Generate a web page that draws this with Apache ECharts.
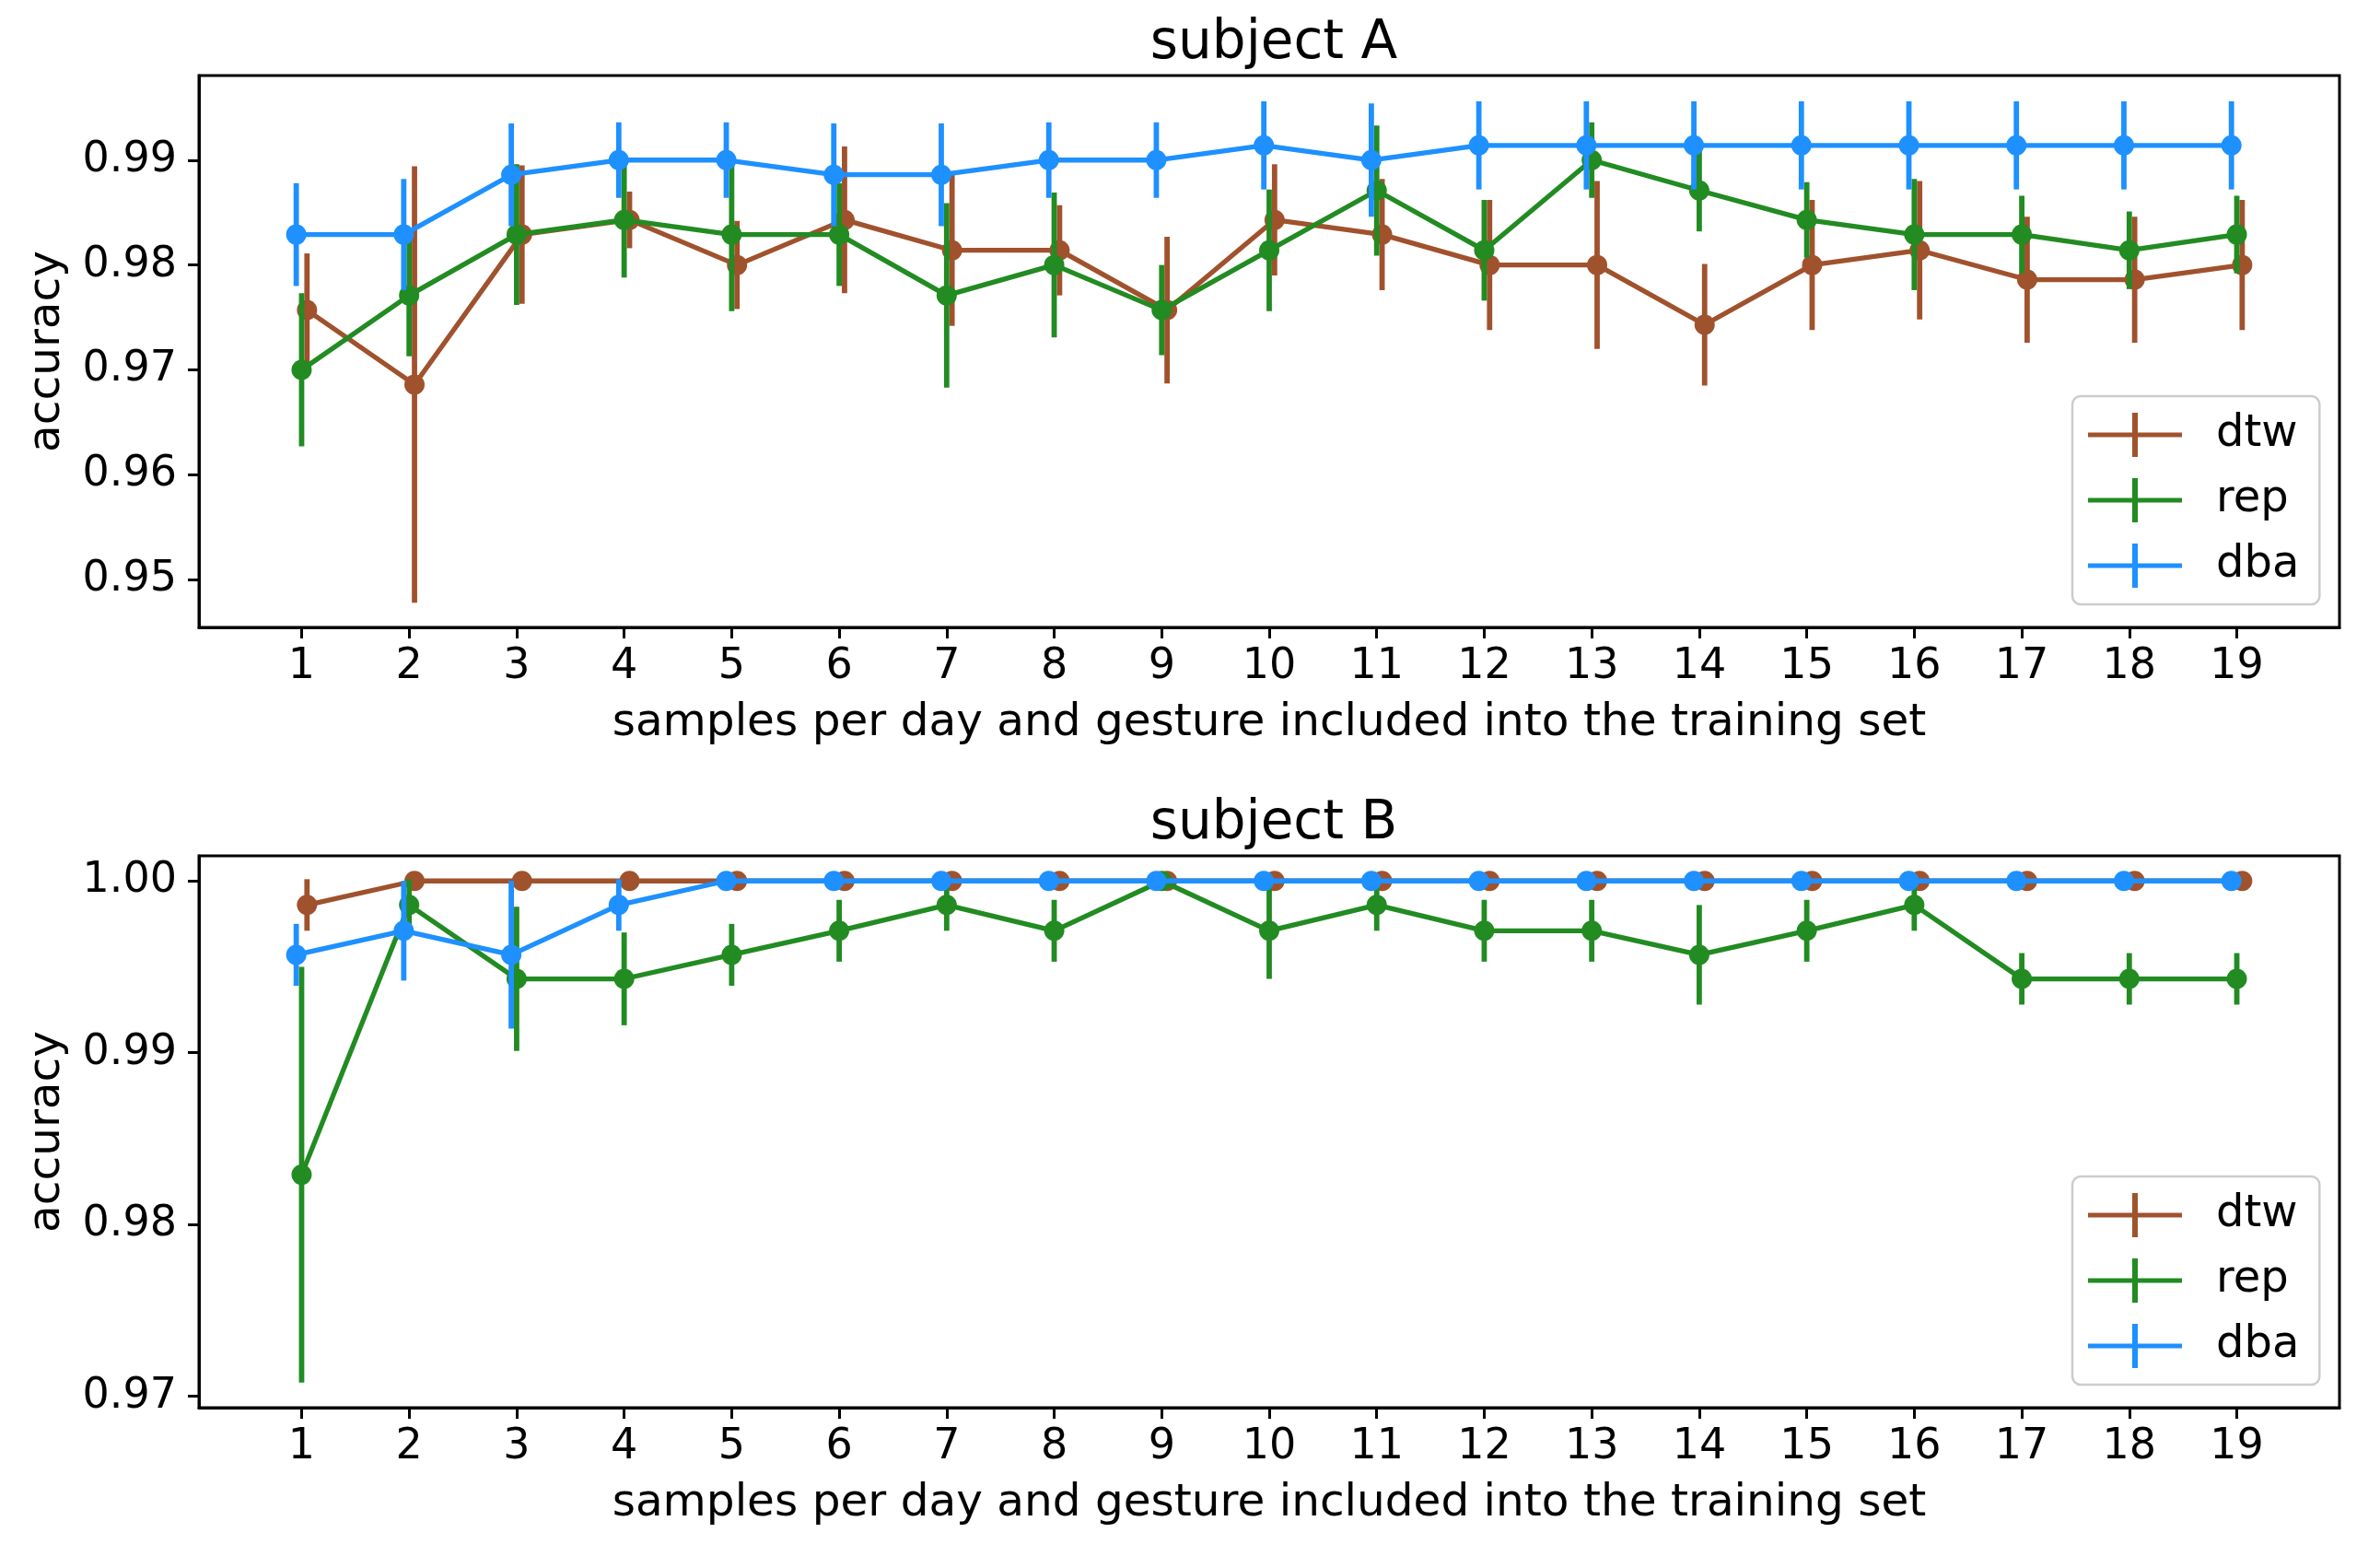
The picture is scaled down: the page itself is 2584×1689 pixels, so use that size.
<!DOCTYPE html>
<html><head><meta charset="utf-8">
<script src="https://cdn.jsdelivr.net/npm/echarts@6/dist/echarts.min.js"></script>
<style>html,body{margin:0;padding:0;background:#fff}#c{width:2584px;height:1689px}</style>
</head><body><div id="c"></div>
<script>
// ---- data ----
const xs = [1,2,3,4,5,6,7,8,9,10,11,12,13,14,15,16,17,18,19];
const seriesNames = ['dtw','rep','dba'];
const panelTitles = ['subject A','subject B'];
const yTicksA = [0.95,0.96,0.97,0.98,0.99];
const yTicksB = [0.97,0.98,0.99,1.00];

const dtwA    = [0.9757,0.9686,0.9829,0.9843,0.9800,0.9843,0.9814,0.9814,0.9757,0.9843,0.9829,0.9800,0.9800,0.9743,0.9800,0.9814,0.9786,0.9786,0.9800];
const dtwAErr = [0.0054,0.0208,0.0066,0.0027,0.0042,0.0070,0.0072,0.0043,0.0070,0.0053,0.0053,0.0062,0.0080,0.0058,0.0062,0.0066,0.0060,0.0060,0.0062];
const repA    = [0.9700,0.9771,0.9829,0.9843,0.9829,0.9829,0.9771,0.9800,0.9757,0.9814,0.9871,0.9814,0.9900,0.9871,0.9843,0.9829,0.9829,0.9814,0.9829];
const repAErr = [0.0073,0.0058,0.0067,0.0055,0.0073,0.0049,0.0088,0.0069,0.0043,0.0058,0.0062,0.0048,0.0036,0.0039,0.0036,0.0053,0.0037,0.0037,0.0037];
const dbaA    = [0.9829,0.9829,0.9886,0.9900,0.9900,0.9886,0.9886,0.9900,0.9900,0.9914,0.9900,0.9914,0.9914,0.9914,0.9914,0.9914,0.9914,0.9914,0.9914];
const dbaAErr = [0.0049,0.0053,0.0049,0.0036,0.0036,0.0049,0.0049,0.0036,0.0036,0.0042,0.0054,0.0042,0.0042,0.0042,0.0042,0.0042,0.0042,0.0042,0.0042];

const dtwB    = [0.9986,1,1,1,1,1,1,1,1,1,1,1,1,1,1,1,1,1,1];
const dtwBErr = [0.0015,0,0,0,0,0,0,0,0,0,0,0,0,0,0,0,0,0,0];
const repB    = [0.9829,0.9986,0.9943,0.9943,0.9957,0.9971,0.9986,0.9971,1.0000,0.9971,0.9986,0.9971,0.9971,0.9957,0.9971,0.9986,0.9943,0.9943,0.9943];
const repBErr = [0.0121,0.0015,0.0042,0.0027,0.0018,0.0018,0.0015,0.0018,0,0.0028,0.0015,0.0018,0.0018,0.0029,0.0018,0.0015,0.0015,0.0015,0.0015];
const dbaB    = [0.9957,0.9971,0.9957,0.9986,1,1,1,1,1,1,1,1,1,1,1,1,1,1,1];
const dbaBErr = [0.0018,0.0029,0.0043,0.0015,0,0,0,0,0,0,0,0,0,0,0,0,0,0,0];

// ---- styling ----
const FONT = 'DejaVu Sans';
const colors = {dtw:'#a0522d', rep:'#228b22', dba:'#1e90ff'};
const offsets = {dtw:0.05, rep:0, dba:-0.05};
const panels = [
  {vals:{dtw:dtwA,rep:repA,dba:dbaA}, errs:{dtw:dtwAErr,rep:repAErr,dba:dbaAErr}, ymin:0.94545, ymax:0.99806, ticks:yTicksA},
  {vals:{dtw:dtwB,rep:repB,dba:dbaB}, errs:{dtw:dtwBErr,rep:repBErr,dba:dbaBErr}, ymin:0.96934, ymax:1.00146, ticks:yTicksB}
];
const gridTops = [82, 929];
const GH = 599, GL = 216, GR = 44;
const legendIcon = 'path://M0,21.5H102V26.5H0Z M48,0H54V48H48Z';

const grids = [], xAxes = [], yAxes = [], series = [], titles = [], legends = [];
panels.forEach((p, gi) => {
  grids.push({left:GL, right:GR, top:gridTops[gi], height:GH, show:true, borderColor:'#000', borderWidth:3, backgroundColor:'transparent'});
  xAxes.push({
    type:'value', gridIndex:gi, min:0.045, max:19.955,
    name:'samples per day and gesture included into the training set',
    nameLocation:'middle', nameGap:80,
    nameTextStyle:{fontFamily:FONT, fontSize:48.5, color:'#000'},
    axisLine:{show:true, onZero:false, lineStyle:{color:'#000', width:3}},
    axisTick:{show:true, customValues:xs, length:12, lineStyle:{color:'#000', width:3}},
    axisLabel:{show:true, customValues:xs, margin:20, fontFamily:FONT, fontSize:46, color:'#000'},
    splitLine:{show:false}
  });
  yAxes.push({
    type:'value', gridIndex:gi, min:p.ymin, max:p.ymax,
    name:'accuracy', nameLocation:'middle', nameGap:140,
    nameTextStyle:{fontFamily:FONT, fontSize:48.5, color:'#000'},
    axisLine:{show:true, onZero:false, lineStyle:{color:'#000', width:3}},
    axisTick:{show:true, customValues:p.ticks, length:12, lineStyle:{color:'#000', width:3}},
    axisLabel:{show:true, customValues:p.ticks, margin:24, fontFamily:FONT, fontSize:46, color:'#000',
      formatter:v => Number(v).toFixed(2)},
    splitLine:{show:false}
  });
  titles.push({text:panelTitles[gi], left:1378, textAlign:'center', top:gridTops[gi]-68,
    textStyle:{fontFamily:FONT, fontSize:58, fontWeight:'normal', color:'#000'}});
  legends.push({
    data: seriesNames.map(n => ({name:n, icon:legendIcon})),
    orient:'vertical', left:2250, top:gridTops[gi]+348,
    itemWidth:102, itemHeight:48, itemGap:23,
    padding:[18,22,18,17],
    backgroundColor:'rgba(255,255,255,0.8)', borderColor:'#cccccc', borderWidth:2.5, borderRadius:9,
    textStyle:{fontFamily:FONT, fontSize:48, color:'#000', padding:[0,0,0,32]},
    selectedMode:false, z:20
  });
  let z = 2;
  seriesNames.forEach(n => {
    const off = offsets[n], col = colors[n], vals = p.vals[n], errs = p.errs[n];
    const errData = [];
    xs.forEach((x, i) => { if (errs[i] > 0) errData.push([x+off, vals[i]-errs[i], vals[i]+errs[i]]); });
    series.push({
      type:'line', name:n, xAxisIndex:gi, yAxisIndex:gi, z:z++,
      data: xs.map((x, i) => [x+off, vals[i]]),
      symbol:'circle', symbolSize:22, showSymbol:true,
      lineStyle:{color:col, width:5.3}, itemStyle:{color:col},
      emphasis:{disabled:true}, animation:false, silent:true
    });
    series.push({
      type:'custom', name:n+' error', xAxisIndex:gi, yAxisIndex:gi, z:z++, silent:true,
      data:errData, encode:{x:0, y:[1,2]},
      renderItem:(params, api) => {
        const a = api.coord([api.value(0), api.value(1)]);
        const b = api.coord([api.value(0), api.value(2)]);
        return {type:'line', shape:{x1:a[0], y1:a[1], x2:b[0], y2:b[1]}, style:{stroke:col, lineWidth:5.8}};
      },
      animation:false
    });
  });
});

const chart = echarts.init(document.getElementById('c'));
chart.setOption({
  backgroundColor:'#fff',
  animation:false,
  title:titles, legend:legends, grid:grids, xAxis:xAxes, yAxis:yAxes, series:series
});
</script></body></html>
